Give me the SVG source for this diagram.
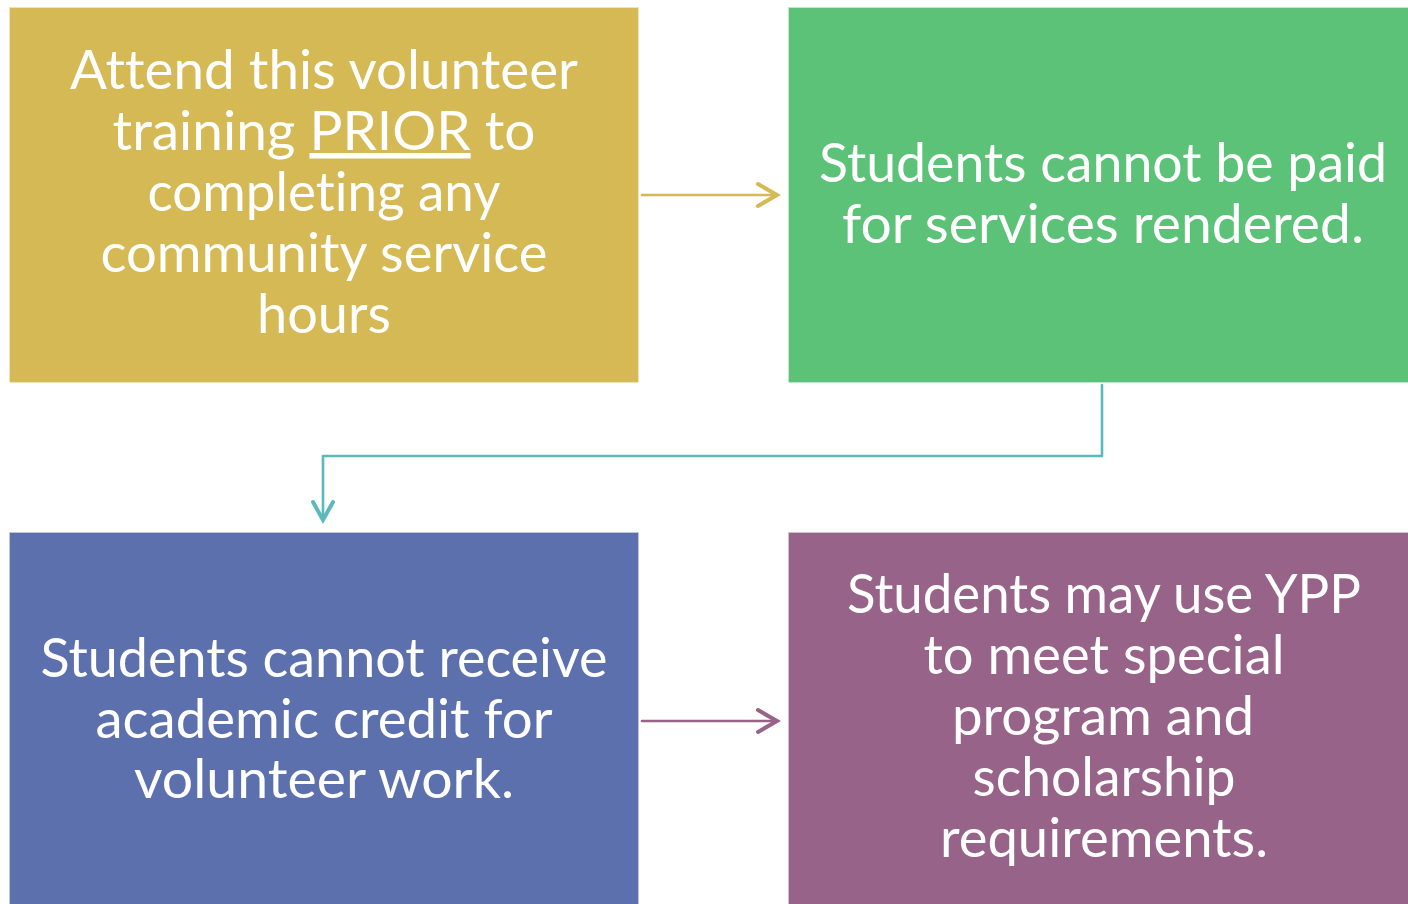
<svg xmlns="http://www.w3.org/2000/svg" width="1408" height="904" viewBox="0 0 1408 904">
<defs>
<style>
.box{stroke:#ffffff;stroke-opacity:0.6;stroke-width:2}
.t{font-family:Lato,"Open Sans","Noto Sans",sans-serif;font-size:55px;fill:#ffffff;text-anchor:middle;font-variant-ligatures:none;font-feature-settings:"liga" 0,"clig" 0}
.conn{fill:none;stroke-width:2.6;stroke-linecap:round;stroke-linejoin:round}
.head{fill:none;stroke-width:4;stroke-linecap:round;stroke-linejoin:miter}
</style>
</defs>
<rect width="1408" height="904" fill="#ffffff"/>
<g id="node-attend">
<rect class="box" x="9" y="7" width="630" height="376" fill="#D4B954"/>
<text class="t" x="324" y="89" textLength="508" lengthAdjust="spacingAndGlyphs">Attend this volunteer</text>
<text class="t" x="324" y="150" textLength="423" lengthAdjust="spacingAndGlyphs">training <tspan text-decoration="underline">PRIOR</tspan> to</text>
<text class="t" x="324" y="211" textLength="353" lengthAdjust="spacingAndGlyphs">completing any</text>
<text class="t" x="324" y="272" textLength="447" lengthAdjust="spacingAndGlyphs">community service</text>
<text class="t" x="324" y="333" textLength="134" lengthAdjust="spacingAndGlyphs">hours</text>
</g>
<g id="node-paid">
<rect class="box" x="788" y="7" width="622" height="376" fill="#5BC277"/>
<text class="t" x="1103" y="182" textLength="568" lengthAdjust="spacingAndGlyphs">Students cannot be paid</text>
<text class="t" x="1103" y="243" textLength="522" lengthAdjust="spacingAndGlyphs">for services rendered.</text>
</g>
<g id="node-credit">
<rect class="box" x="9" y="532" width="630" height="374" fill="#5C70AD"/>
<text class="t" x="324" y="677" textLength="567" lengthAdjust="spacingAndGlyphs">Students cannot receive</text>
<text class="t" x="324" y="738" textLength="457" lengthAdjust="spacingAndGlyphs">academic credit for</text>
<text class="t" x="324" y="798" textLength="380" lengthAdjust="spacingAndGlyphs">volunteer work.</text>
</g>
<g id="node-ypp">
<rect class="box" x="788" y="532" width="622" height="374" fill="#976388"/>
<text class="t" x="1104" y="613" textLength="514" lengthAdjust="spacingAndGlyphs">Students may use YPP</text>
<text class="t" x="1104" y="674" textLength="361" lengthAdjust="spacingAndGlyphs">to meet special</text>
<text class="t" x="1103" y="735" textLength="302" lengthAdjust="spacingAndGlyphs">program and</text>
<text class="t" x="1104" y="796" textLength="263" lengthAdjust="spacingAndGlyphs">scholarship</text>
<text class="t" x="1104" y="857" textLength="328" lengthAdjust="spacingAndGlyphs">requirements.</text>
</g>
<g id="connectors">
<g id="c1">
<line class="conn" x1="642" y1="195" x2="776" y2="195" stroke="#D4B954"/>
<polyline class="head" points="758,184 777,195 758,206" stroke="#D4B954"/>
</g>
<g id="c2">
<polyline class="conn" points="1102,385 1102,456 323,456 323,519" stroke="#5BB9B9"/>
<polyline class="head" points="313,502 323,520 333,502" stroke="#5BB9B9"/>
</g>
<g id="c3">
<line class="conn" x1="642" y1="721" x2="776" y2="721" stroke="#976388"/>
<polyline class="head" points="758,710 777,721 758,732" stroke="#976388"/>
</g>
</g>
</svg>
